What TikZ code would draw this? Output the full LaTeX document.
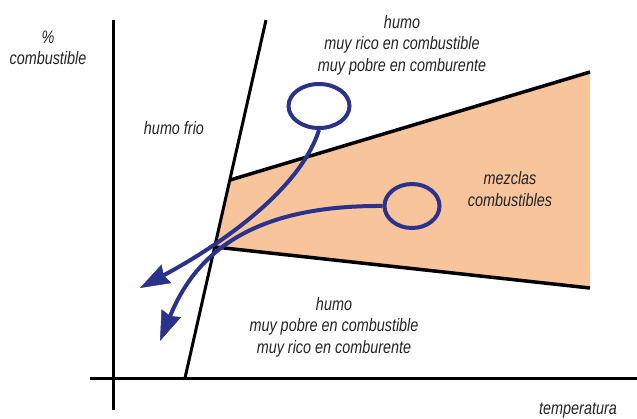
\documentclass[tikz,border=0pt]{standalone}
\usepackage{fontspec}
\setmainfont{Liberation Sans}[FakeStretch=0.8]
\usetikzlibrary{arrows.meta,shapes.geometric}
\definecolor{mixorange}{RGB}{247,196,156}
\definecolor{flowblue}{RGB}{42,50,140}
\definecolor{labelgray}{RGB}{35,35,35}
\tikzset{
  lbl/.style={font=\fontsize{18}{21.5}\selectfont\itshape, text=labelgray, align=center, inner sep=0pt},
  eddy/.style={draw=flowblue, line width=4pt, ellipse, inner sep=0pt},
  flowline/.style={draw=flowblue, line width=4pt, arrows={-Stealth[length=30pt,width=21pt,inset=3pt,line width=0.5pt,fill=flowblue]}},
}
\begin{document}
\begin{tikzpicture}[x=1pt,y=-1pt]
        \useasboundingbox (0,0) rectangle (637,418);
        % mezclas zone
        \fill[mixorange] (230,180) -- (590,72) -- (590,288) -- (215,247) -- cycle;
        \draw[line width=3.5pt] (230,180) -- (590,72);
        \draw[line width=3.5pt] (215,247) -- (590,288);
        % axes
        \draw[line width=3pt] (113,20) -- (113,410);
        \draw[line width=3pt] (90,378) -- (637,378);
        \draw[line width=3pt] (266,20) -- (185,378);
        % labels
        \node[lbl] (ylabel) at (48,48) {\%\\combustible};
        \node[lbl] (xlabel) at (578,411) {temperatura};
        \node[lbl] (cold) at (174,128) {humo frio};
        \node[lbl] (rich) at (402,45) {humo\\muy rico en combustible\\muy pobre en comburente};
        \node[lbl] (poor) at (334,327) {humo\\muy pobre en combustible\\muy rico en comburente};
        \node[lbl, font=\fontsize{18}{22.5}\selectfont\itshape] (mix) at (510,189) {mezclas\\combustibles};
        % eddies
        \node[eddy, minimum width=61pt, minimum height=44pt] (eddyA) at (319,106) {};
        \node[eddy, minimum width=55pt, minimum height=44pt] (eddyB) at (412,206) {};
        \coordinate (tipA) at (140,288);
        \coordinate (tipB) at (160,341);
        \draw[flowline] (eddyA.south) .. controls (300,190) and (220,245) .. (tipA);
        \draw[flowline] (eddyB.west) .. controls (250,205) and (195,255) .. (tipB);
    \end{tikzpicture}
\end{document}
